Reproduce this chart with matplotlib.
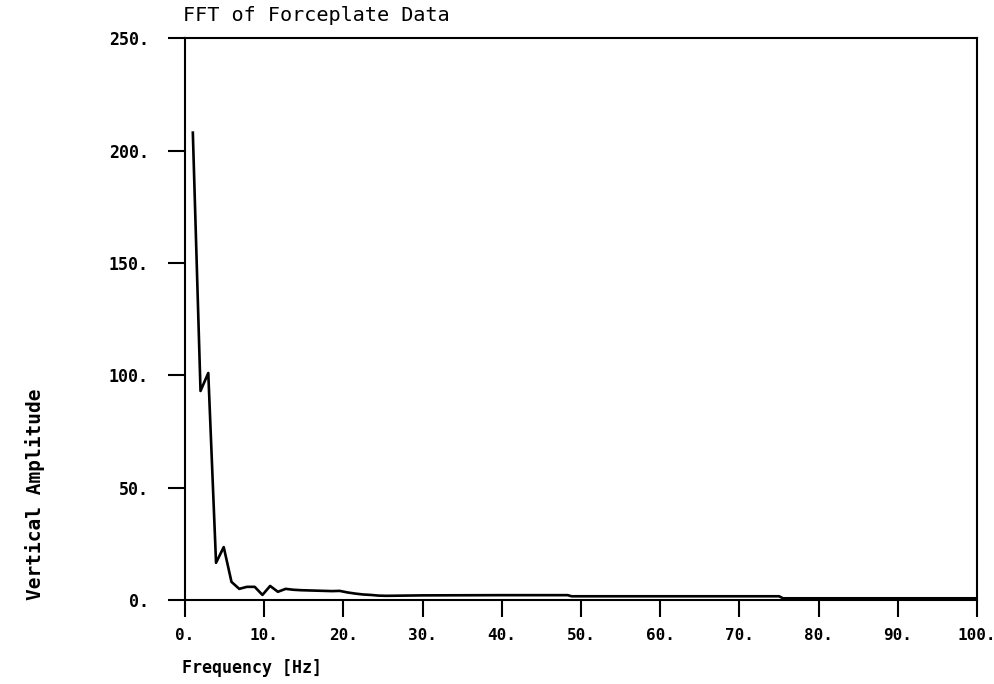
import matplotlib
matplotlib.use("Agg")
import matplotlib.pyplot as plt

# frequency bins (Hz) and the FFT amplitude
freq = [0.98, 1.95, 2.93, 3.91, 4.88, 5.86, 6.84, 7.81, 8.79, 9.77,
        10.74, 11.72, 12.70, 13.67, 14.65, 15.63, 16.60, 17.58, 18.55, 19.53,
        20.51, 21.48, 22.46, 23.44, 24.41, 25.39, 30.0, 40.0, 48.3, 48.8,
        60.0, 75.0, 75.5, 100.0]
amp = [208.0, 93.0, 101.0, 16.5, 23.5, 8.0, 4.9, 5.8, 5.8, 2.2,
       6.2, 3.6, 4.9, 4.5, 4.3, 4.2, 4.1, 4.0, 3.9, 4.0,
       3.3, 2.8, 2.4, 2.2, 1.9, 1.8, 2.0, 2.1, 2.1, 1.6,
       1.6, 1.6, 0.7, 0.7]

x_ticks = [0, 10, 20, 30, 40, 50, 60, 70, 80, 90, 100]
y_ticks = [0, 50, 100, 150, 200, 250]

font = "DejaVu Sans Mono"

fig = plt.figure(figsize=(9.95, 6.84), dpi=100)
ax = fig.add_axes([0.186, 0.123, 0.796, 0.821])

ax.plot(freq, amp, color="black", lw=1.9)

ax.set_xlim(0, 100)
ax.set_ylim(0, 250)
ax.set_xticks(x_ticks)
ax.set_yticks(y_ticks)
ax.set_xticklabels([f"{t}." for t in x_ticks], fontfamily=font, fontweight="bold", fontsize=11.5)
ax.set_yticklabels([f"{t}." for t in y_ticks], fontfamily=font, fontweight="bold", fontsize=12)
ax.tick_params(axis="both", direction="out", length=12, width=1.5, color="black")
ax.tick_params(axis="y", pad=14)
ax.tick_params(axis="x", pad=8)
for s in ax.spines.values():
    s.set_linewidth(1.5)
    s.set_color("black")

# title and axis labels placed like the old plotter output
fig.text(0.184, 0.978, "FFT of Forceplate Data", fontfamily=font, fontsize=14.5,
         ha="left", va="center")
fig.text(0.183, 0.023, "Frequency [Hz]", fontfamily=font, fontsize=12,
         fontweight="bold", ha="left", va="center")
fig.text(0.035, 0.123, "Vertical Amplitude", fontfamily=font, fontsize=14,
         fontweight="bold", rotation=90, ha="center", va="bottom")

fig.savefig("out.png", dpi=100)
